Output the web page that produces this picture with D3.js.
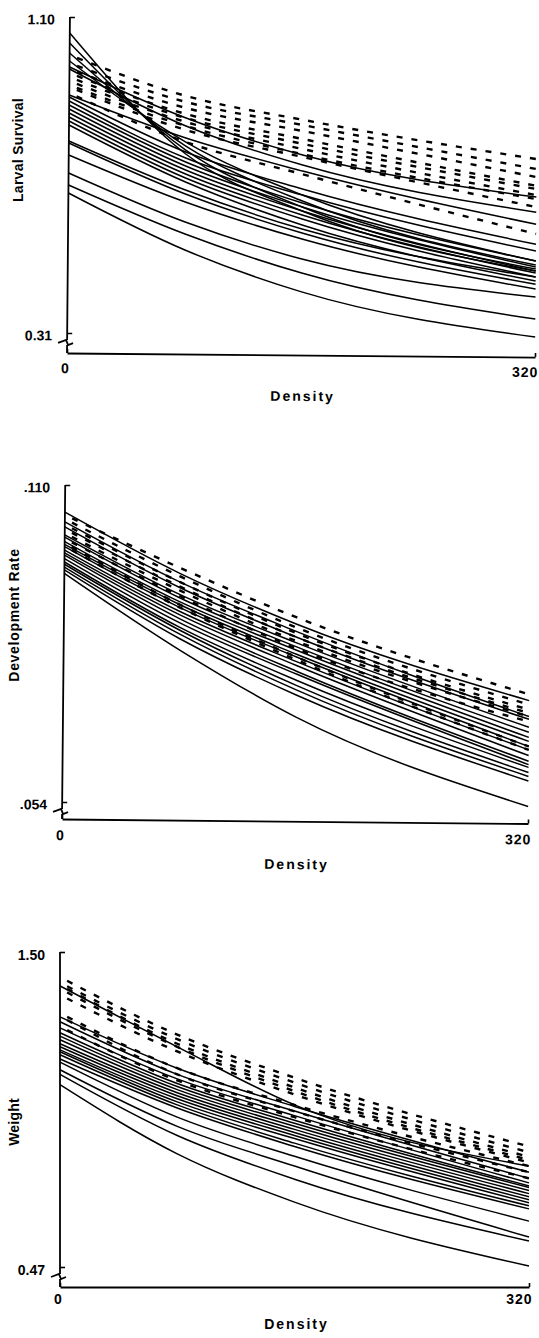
<!DOCTYPE html>
<html>
<head>
<meta charset="utf-8">
<script src="https://cdn.jsdelivr.net/npm/d3@7"></script>
<style>
body { margin: 0; background: #fff; }
svg text { font-family: "Liberation Sans", Arial, sans-serif; font-weight: bold; fill: #000; }
</style>
</head>
<body>
<svg></svg>
<script>
const densities = [0, 80, 160, 320];
const xTicks = [0, 320];

// Larval survival
const survivalTicks = [0.31, 1.10];
const survivalTickLabels = ["0.31", "1.10"];
const survivalSolid = [
  [1.060, 0.760, 0.620, 0.475],
  [1.035, 0.770, 0.630, 0.480],
  [1.010, 0.780, 0.645, 0.490],
  [0.990, 0.790, 0.660, 0.500],
  [0.975, 0.850, 0.760, 0.660],
  [0.970, 0.830, 0.735, 0.622],
  [0.905, 0.800, 0.720, 0.592],
  [0.900, 0.765, 0.675, 0.542],
  [0.890, 0.750, 0.660, 0.525],
  [0.880, 0.740, 0.640, 0.500],
  [0.870, 0.730, 0.630, 0.485],
  [0.860, 0.720, 0.620, 0.475],
  [0.850, 0.710, 0.610, 0.470],
  [0.840, 0.700, 0.600, 0.460],
  [0.830, 0.690, 0.585, 0.450],
  [0.790, 0.670, 0.575, 0.460],
  [0.785, 0.660, 0.565, 0.442],
  [0.755, 0.640, 0.550, 0.430],
  [0.710, 0.590, 0.500, 0.410],
  [0.680, 0.560, 0.465, 0.355],
  [0.660, 0.520, 0.418, 0.310]
];
const survivalDashed = [
  [1.005, 0.905, 0.848, 0.755],
  [0.985, 0.890, 0.835, 0.730],
  [0.970, 0.875, 0.820, 0.710],
  [0.960, 0.860, 0.800, 0.688],
  [0.950, 0.850, 0.788, 0.680],
  [0.940, 0.840, 0.775, 0.665],
  [0.930, 0.830, 0.762, 0.655],
  [0.925, 0.820, 0.755, 0.635],
  [0.910, 0.790, 0.712, 0.568]
];

// Development rate
const devTicks = [0.054, 0.110];
const devTickLabels = [".054", ".110"];
const devSolid = [
  [0.1052, 0.0945, 0.0858, 0.0727],
  [0.1035, 0.0930, 0.0845, 0.0699],
  [0.1026, 0.0920, 0.0835, 0.0694],
  [0.1012, 0.0908, 0.0825, 0.0680],
  [0.1008, 0.0902, 0.0818, 0.0671],
  [0.1000, 0.0895, 0.0812, 0.0662],
  [0.0995, 0.0890, 0.0805, 0.0655],
  [0.0991, 0.0885, 0.0800, 0.0646],
  [0.0985, 0.0878, 0.0792, 0.0640],
  [0.0980, 0.0872, 0.0785, 0.0630],
  [0.0976, 0.0865, 0.0775, 0.0620],
  [0.0970, 0.0858, 0.0770, 0.0614],
  [0.0964, 0.0850, 0.0759, 0.0609],
  [0.0960, 0.0845, 0.0750, 0.0600],
  [0.0955, 0.0838, 0.0742, 0.0593],
  [0.0950, 0.0830, 0.0733, 0.0585],
  [0.0944, 0.0810, 0.0694, 0.0540]
];
const devDashed = [
  [0.1047, 0.0955, 0.0870, 0.0738],
  [0.1040, 0.0940, 0.0852, 0.0720],
  [0.1030, 0.0930, 0.0842, 0.0711],
  [0.1022, 0.0922, 0.0835, 0.0705],
  [0.1015, 0.0915, 0.0828, 0.0699],
  [0.1005, 0.0905, 0.0815, 0.0690],
  [0.0998, 0.0890, 0.0800, 0.0646],
  [0.0992, 0.0885, 0.0795, 0.0640]
];

// Weight
const weightTicks = [0.47, 1.50];
const weightTickLabels = ["0.47", "1.50"];
const weightSolid = [
  [1.389, 1.190, 1.000, 0.800],
  [1.288, 1.120, 0.995, 0.780],
  [1.272, 1.100, 0.980, 0.760],
  [1.252, 1.085, 0.965, 0.745],
  [1.236, 1.070, 0.950, 0.735],
  [1.225, 1.060, 0.940, 0.730],
  [1.213, 1.050, 0.930, 0.720],
  [1.200, 1.040, 0.920, 0.710],
  [1.190, 1.030, 0.910, 0.700],
  [1.180, 1.020, 0.900, 0.690],
  [1.174, 1.010, 0.890, 0.680],
  [1.164, 1.000, 0.875, 0.670],
  [1.150, 0.990, 0.864, 0.660],
  [1.140, 0.960, 0.832, 0.620],
  [1.115, 0.930, 0.800, 0.568],
  [1.100, 0.900, 0.757, 0.555],
  [1.066, 0.840, 0.682, 0.473]
];
const weightDashed = [
  [1.418, 1.230, 1.089, 0.864],
  [1.400, 1.215, 1.073, 0.845],
  [1.392, 1.200, 1.057, 0.830],
  [1.380, 1.190, 1.045, 0.820],
  [1.360, 1.175, 1.034, 0.812],
  [1.300, 1.120, 1.000, 0.800],
  [1.290, 1.100, 0.979, 0.780],
  [1.256, 1.080, 0.960, 0.760]
];

const svg = d3.select("svg")
    .attr("width", 539)
    .attr("height", 1338);

const panels = [
  {title: "Larval Survival", solid: survivalSolid, dashed: survivalDashed,
   ticks: survivalTicks, tickLabels: survivalTickLabels,
   x0: 67, x1: 535, top: 17, bottom: 333, axisY: 353, tilt: 0.5,
   titleX: 18, titleY: 150, xGap: 10, densityY: 41, titleSpacing: 0.3},
  {title: "Development Rate", solid: devSolid, dashed: devDashed,
   ticks: devTicks, tickLabels: devTickLabels,
   x0: 62, x1: 528, top: 485, bottom: 802, axisY: 819, tilt: 0.55,
   titleX: 14, titleY: 615, xGap: 11, densityY: 43, titleSpacing: 0.7},
  {title: "Weight", solid: weightSolid, dashed: weightDashed,
   ticks: weightTicks, tickLabels: weightTickLabels,
   x0: 60, x1: 529, top: 952, bottom: 1267, axisY: 1287, tilt: 0,
   titleX: 14, titleY: 1122, xGap: 7, densityY: 37, titleSpacing: 0.2}
];

panels.forEach(p => {

  const g = svg.append("g")
      .attr("transform", "rotate(" + p.tilt + "," + p.x0 + "," + p.axisY + ")");

  const x = d3.scaleLinear().domain([0, 320]).range([p.x0, p.x1]);
  const y = d3.scaleLinear().domain(p.ticks).range([p.bottom, p.top]);

  const line = d3.line()
      .x((d, i) => x(densities[i]))
      .y(d => y(d))
      .curve(d3.curveMonotoneX);

  g.selectAll(".solid")
    .data(p.solid)
    .enter().append("path")
      .attr("class", "solid")
      .attr("d", line)
      .attr("fill", "none")
      .attr("stroke", "#000")
      .attr("stroke-width", 1.5);

  g.selectAll(".dashed")
    .data(p.dashed)
    .enter().append("path")
      .attr("class", "dashed")
      .attr("d", line)
      .attr("fill", "none")
      .attr("stroke", "#000")
      .attr("stroke-width", 2.4)
      .attr("stroke-dasharray", "6,9")
      .attr("stroke-dashoffset", 7);

  // y axis with a break just above the x axis
  const yAxis = g.append("g")
      .attr("transform", "translate(" + p.x0 + ",0)")
      .call(d3.axisLeft(y)
        .tickValues(p.ticks)
        .tickFormat((d, i) => p.tickLabels[i])
        .tickSize(-5)
        .tickPadding(15));
  yAxis.select(".domain").remove();
  yAxis.selectAll("line").attr("stroke-width", 1.6);
  yAxis.selectAll("text")
      .attr("font-size", 14)
      .attr("dy", "0.5em");

  const brk = p.bottom;
  g.append("path")
      .attr("d", "M" + p.x0 + "," + p.top + "V" + (brk + 7)
        + "M" + (p.x0 - 9) + "," + (brk + 10) + "L" + (p.x0 - 1) + "," + (brk + 7)
        + "L" + (p.x0 + 1) + "," + (brk + 12) + "L" + (p.x0 + 6) + "," + (brk + 10)
        + "M" + p.x0 + "," + (brk + 12) + "V" + p.axisY)
      .attr("fill", "none")
      .attr("stroke", "#000")
      .attr("stroke-width", 1.8);

  // x axis
  const xAxis = g.append("g")
      .attr("transform", "translate(0," + p.axisY + ")")
      .call(d3.axisBottom(x)
        .tickValues(xTicks)
        .tickSize(-4)
        .tickSizeOuter(0)
        .tickPadding(p.xGap));
  xAxis.select(".domain").attr("stroke-width", 1.8);
  xAxis.selectAll("line").attr("stroke-width", 1.6);
  xAxis.selectAll("text")
      .attr("font-size", 14)
      .attr("letter-spacing", 1)
      .attr("text-anchor", d => d === 0 ? "middle" : "end")
      .attr("dx", d => d === 0 ? -2 : 3);

  g.append("text")
      .attr("x", (p.x0 + p.x1) / 2 + 2)
      .attr("y", p.axisY + p.densityY)
      .attr("dy", "0.35em")
      .attr("text-anchor", "middle")
      .attr("font-size", 14)
      .attr("letter-spacing", 2)
      .text("Density");

  svg.append("text")
      .attr("transform", "translate(" + p.titleX + "," + p.titleY + ") rotate(-90)")
      .attr("dy", "0.35em")
      .attr("text-anchor", "middle")
      .attr("font-size", 14)
      .attr("letter-spacing", p.titleSpacing)
      .text(p.title);
});
</script>
</body>
</html>
